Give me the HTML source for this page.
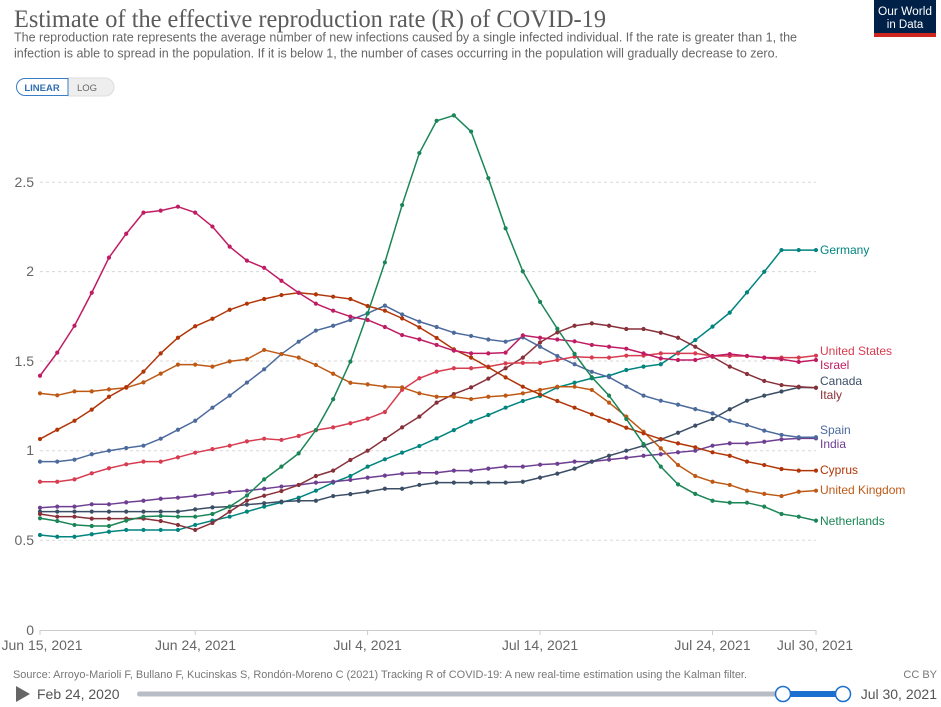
<!DOCTYPE html>
<html><head><meta charset="utf-8"><style>
html,body{margin:0;padding:0;background:#fff;width:941px;height:707px;overflow:hidden}
svg{display:block}
text{font-family:"Liberation Sans",sans-serif}
</style></head><body>
<svg width="941" height="707" viewBox="0 0 941 707" xmlns="http://www.w3.org/2000/svg">
<!-- header -->
<text x="14" y="27" font-family="Liberation Serif, serif" style="font-family:'Liberation Serif',serif" font-size="25" fill="#5b5b5b" textLength="592" lengthAdjust="spacingAndGlyphs">Estimate of the effective reproduction rate (R) of COVID-19</text>
<text x="14" y="41.5" font-size="12.5" fill="#666" textLength="783" lengthAdjust="spacingAndGlyphs">The reproduction rate represents the average number of new infections caused by a single infected individual. If the rate is greater than 1, the</text>
<text x="14" y="57.5" font-size="12.5" fill="#666" textLength="764" lengthAdjust="spacingAndGlyphs">infection is able to spread in the population. If it is below 1, the number of cases occurring in the population will gradually decrease to zero.</text>
<!-- logo -->
<rect x="874" y="0" width="62" height="37" fill="#002147"/>
<rect x="874" y="33" width="62" height="4" fill="#ce261e"/>
<text x="905" y="15" font-size="11.5" fill="#fff" text-anchor="middle" textLength="54" lengthAdjust="spacingAndGlyphs">Our World</text>
<text x="905" y="28" font-size="11.5" fill="#fff" text-anchor="middle">in Data</text>
<!-- buttons -->
<path d="M105 78 H68 V96 H105 A9 9 0 0 0 105 78 Z" fill="#eee" stroke="#ddd"/>
<path d="M68 78.5 H25 A8.5 8.5 0 0 0 25 95.5 H68 Z" fill="#fff" stroke="#3b7dc4"/>
<text x="42" y="91" font-size="9.5" font-weight="bold" fill="#2f6fb4" text-anchor="middle">LINEAR</text>
<text x="87" y="91" font-size="9.5" fill="#666" text-anchor="middle">LOG</text>
<!-- grid -->
<g stroke="#d8d8d8" stroke-dasharray="3,3" stroke-width="1">
<line x1="40" y1="182.3" x2="816" y2="182.3"/>
<line x1="40" y1="271.6" x2="816" y2="271.6"/>
<line x1="40" y1="361" x2="816" y2="361"/>
<line x1="40" y1="450.7" x2="816" y2="450.7"/>
<line x1="40" y1="540.3" x2="816" y2="540.3"/>
</g>
<line x1="40" y1="630.5" x2="816" y2="630.5" stroke="#ccc"/>
<g stroke="#ccc"><line x1="40" y1="630" x2="40" y2="635"/><line x1="195.2" y1="630" x2="195.2" y2="635"/><line x1="367.6" y1="630" x2="367.6" y2="635"/><line x1="540" y1="630" x2="540" y2="635"/><line x1="712.5" y1="630" x2="712.5" y2="635"/><line x1="816" y1="630" x2="816" y2="635"/></g>
<g font-size="14" fill="#666" text-anchor="end">
<text x="34" y="187">2.5</text><text x="34" y="276">2</text><text x="34" y="366">1.5</text><text x="34" y="455">1</text><text x="34" y="545">0.5</text><text x="34" y="635">0</text>
</g>
<g font-size="14" fill="#666" text-anchor="middle">
<text x="42" y="650">Jun 15, 2021</text><text x="195.5" y="650">Jun 24, 2021</text><text x="367.6" y="650">Jul 4, 2021</text><text x="540" y="650">Jul 14, 2021</text><text x="712.5" y="650">Jul 24, 2021</text><text x="815" y="650">Jul 30, 2021</text>
</g>
<!-- series -->
<g transform="matrix(17.244,0,0,-179.3,40,630)" fill="none" stroke-linejoin="round">
<g stroke-width="1.5">
<polyline vector-effect="non-scaling-stroke" stroke="#00847E" points="0,.53 1,.52 2,.52 3,.534 4,.548 5,.558 6,.558 7,.558 8,.558 9,.586 10,.61 11,.632 12,.66 13,.688 14,.712 15,.738 16,.777 17,.822 18,.859 19,.911 20,.952 21,.989 22,1.026 23,1.069 24,1.115 25,1.162 26,1.199 27,1.24 28,1.277 29,1.305 30,1.353 31,1.379 32,1.404 33,1.418 34,1.45 35,1.469 36,1.482 37,1.547 38,1.617 39,1.692 40,1.77 41,1.883 42,1.998 43,2.119 44,2.119 45,2.119"/>
<polyline vector-effect="non-scaling-stroke" stroke="#6D3E91" points="0,.682 1,.688 2,.688 3,.701 4,.701 5,.712 6,.721 7,.732 8,.738 9,.748 10,.76 11,.77 12,.777 13,.788 14,.8 15,.809 16,.822 17,.827 18,.837 19,.85 20,.861 21,.872 22,.877 23,.877 24,.889 25,.889 26,.9 27,.911 28,.911 29,.922 30,.927 31,.939 32,.939 33,.95 34,.961 35,.972 36,.98 37,.991 38,1 39,1.028 40,1.041 41,1.041 42,1.05 43,1.063 44,1.069 45,1.069"/>
<polyline vector-effect="non-scaling-stroke" stroke="#3C4E66" points="0,.66 1,.66 2,.66 3,.66 4,.66 5,.66 6,.66 7,.66 8,.66 9,.673 10,.684 11,.688 12,.699 13,.707 14,.716 15,.721 16,.721 17,.747 18,.758 19,.771 20,.788 21,.788 22,.809 23,.822 24,.822 25,.822 26,.822 27,.822 28,.827 29,.85 30,.872 31,.9 32,.939 33,.972 34,1 35,1.028 36,1.063 37,1.1 38,1.14 39,1.177 40,1.231 41,1.279 42,1.307 43,1.33 44,1.353 45,1.351"/>
<polyline vector-effect="non-scaling-stroke" stroke="#883039" points="0,.647 1,.632 2,.632 3,.621 4,.621 5,.621 6,.621 7,.608 8,.586 9,.558 10,.597 11,.66 12,.722 13,.749 14,.775 15,.809 16,.859 17,.889 18,.948 19,1 20,1.065 21,1.13 22,1.19 23,1.268 24,1.316 25,1.353 26,1.402 27,1.46 28,1.519 29,1.604 30,1.66 31,1.697 32,1.71 33,1.697 34,1.679 35,1.679 36,1.658 37,1.63 38,1.58 39,1.524 40,1.469 41,1.428 42,1.389 43,1.366 44,1.357 45,1.351"/>
<polyline vector-effect="non-scaling-stroke" stroke="#4C6A9C" points="0,.939 1,.939 2,.95 3,.98 4,1 5,1.015 6,1.028 7,1.067 8,1.117 9,1.167 10,1.24 11,1.307 12,1.38 13,1.454 14,1.539 15,1.608 16,1.67 17,1.697 18,1.729 19,1.766 20,1.809 21,1.76 22,1.72 23,1.69 24,1.658 25,1.64 26,1.62 27,1.608 28,1.632 29,1.58 30,1.528 31,1.482 32,1.44 33,1.41 34,1.357 35,1.307 36,1.279 37,1.257 38,1.232 39,1.208 40,1.167 41,1.143 42,1.112 43,1.088 44,1.075 45,1.075"/>
<polyline vector-effect="non-scaling-stroke" stroke="#D73C50" points="0,.827 1,.827 2,.84 3,.874 4,.902 5,.924 6,.939 7,.939 8,.963 9,.989 10,1.009 11,1.028 12,1.052 13,1.067 14,1.06 15,1.082 16,1.115 17,1.13 18,1.153 19,1.179 20,1.216 21,1.34 22,1.404 23,1.441 24,1.46 25,1.46 26,1.469 27,1.487 28,1.49 29,1.49 30,1.506 31,1.524 32,1.52 33,1.519 34,1.53 35,1.53 36,1.543 37,1.543 38,1.543 39,1.528 40,1.528 41,1.528 42,1.519 43,1.519 44,1.519 45,1.53"/>
<polyline vector-effect="non-scaling-stroke" stroke="#BE5915" points="0,1.32 1,1.309 2,1.331 3,1.331 4,1.342 5,1.351 6,1.381 7,1.43 8,1.48 9,1.48 10,1.469 11,1.498 12,1.51 13,1.562 14,1.539 15,1.519 16,1.478 17,1.429 18,1.379 19,1.37 20,1.357 21,1.353 22,1.32 23,1.301 24,1.301 25,1.288 26,1.301 27,1.307 28,1.32 29,1.339 30,1.357 31,1.357 32,1.339 33,1.268 34,1.19 35,1.106 36,1.013 37,.92 38,.859 39,.827 40,.809 41,.777 42,.759 43,.747 44,.771 45,.777"/>
<polyline vector-effect="non-scaling-stroke" stroke="#B13507" points="0,1.065 1,1.117 2,1.167 3,1.229 4,1.301 5,1.355 6,1.441 7,1.543 8,1.63 9,1.694 10,1.736 11,1.786 12,1.82 13,1.846 14,1.868 15,1.881 16,1.872 17,1.859 18,1.846 19,1.807 20,1.781 21,1.738 22,1.688 23,1.629 24,1.565 25,1.519 26,1.465 27,1.409 28,1.357 29,1.314 30,1.277 31,1.24 32,1.203 33,1.167 34,1.128 35,1.097 36,1.065 37,1.041 38,1.019 39,.991 40,.972 41,.939 42,.92 43,.898 44,.889 45,.889"/>
<polyline vector-effect="non-scaling-stroke" stroke="#C01C63" points="0,1.418 1,1.547 2,1.697 3,1.881 4,2.077 5,2.21 6,2.328 7,2.339 8,2.361 9,2.328 10,2.25 11,2.138 12,2.06 13,2.02 14,1.948 15,1.881 16,1.82 17,1.781 18,1.748 19,1.729 20,1.69 21,1.645 22,1.621 23,1.59 24,1.558 25,1.543 26,1.543 27,1.547 28,1.643 29,1.63 30,1.62 31,1.61 32,1.59 33,1.58 34,1.569 35,1.543 36,1.515 37,1.506 38,1.506 39,1.528 40,1.539 41,1.528 42,1.519 43,1.51 44,1.495 45,1.506"/>
<polyline vector-effect="non-scaling-stroke" stroke="#1A8556" points="0,.623 1,.608 2,.586 3,.58 4,.58 5,.61 6,.632 7,.636 8,.632 9,.632 10,.647 11,.688 12,.75 13,.84 14,.911 15,.985 16,1.115 17,1.287 18,1.497 19,1.766 20,2.05 21,2.37 22,2.66 23,2.84 24,2.87 25,2.78 26,2.52 27,2.24 28,2 29,1.83 30,1.68 31,1.54 32,1.41 33,1.307 34,1.177 35,1.037 36,.911 37,.812 38,.759 39,.721 40,.71 41,.71 42,.688 43,.647 44,.632 45,.61"/>
</g>
<g stroke-width="4.2" stroke-linecap="round">
<path vector-effect="non-scaling-stroke" stroke="#00847E" d="M0 .53h0M1 .52h0M2 .52h0M3 .534h0M4 .548h0M5 .558h0M6 .558h0M7 .558h0M8 .558h0M9 .586h0M10 .61h0M11 .632h0M12 .66h0M13 .688h0M14 .712h0M15 .738h0M16 .777h0M17 .822h0M18 .859h0M19 .911h0M20 .952h0M21 .989h0M22 1.026h0M23 1.069h0M24 1.115h0M25 1.162h0M26 1.199h0M27 1.24h0M28 1.277h0M29 1.305h0M30 1.353h0M31 1.379h0M32 1.404h0M33 1.418h0M34 1.45h0M35 1.469h0M36 1.482h0M37 1.547h0M38 1.617h0M39 1.692h0M40 1.77h0M41 1.883h0M42 1.998h0M43 2.119h0M44 2.119h0M45 2.119h0"/>
<path vector-effect="non-scaling-stroke" stroke="#6D3E91" d="M0 .682h0M1 .688h0M2 .688h0M3 .701h0M4 .701h0M5 .712h0M6 .721h0M7 .732h0M8 .738h0M9 .748h0M10 .76h0M11 .77h0M12 .777h0M13 .788h0M14 .8h0M15 .809h0M16 .822h0M17 .827h0M18 .837h0M19 .85h0M20 .861h0M21 .872h0M22 .877h0M23 .877h0M24 .889h0M25 .889h0M26 .9h0M27 .911h0M28 .911h0M29 .922h0M30 .927h0M31 .939h0M32 .939h0M33 .95h0M34 .961h0M35 .972h0M36 .98h0M37 .991h0M38 1h0M39 1.028h0M40 1.041h0M41 1.041h0M42 1.05h0M43 1.063h0M44 1.069h0M45 1.069h0"/>
<path vector-effect="non-scaling-stroke" stroke="#3C4E66" d="M0 .66h0M1 .66h0M2 .66h0M3 .66h0M4 .66h0M5 .66h0M6 .66h0M7 .66h0M8 .66h0M9 .673h0M10 .684h0M11 .688h0M12 .699h0M13 .707h0M14 .716h0M15 .721h0M16 .721h0M17 .747h0M18 .758h0M19 .771h0M20 .788h0M21 .788h0M22 .809h0M23 .822h0M24 .822h0M25 .822h0M26 .822h0M27 .822h0M28 .827h0M29 .85h0M30 .872h0M31 .9h0M32 .939h0M33 .972h0M34 1h0M35 1.028h0M36 1.063h0M37 1.1h0M38 1.14h0M39 1.177h0M40 1.231h0M41 1.279h0M42 1.307h0M43 1.33h0M44 1.353h0M45 1.351h0"/>
<path vector-effect="non-scaling-stroke" stroke="#883039" d="M0 .647h0M1 .632h0M2 .632h0M3 .621h0M4 .621h0M5 .621h0M6 .621h0M7 .608h0M8 .586h0M9 .558h0M10 .597h0M11 .66h0M12 .722h0M13 .749h0M14 .775h0M15 .809h0M16 .859h0M17 .889h0M18 .948h0M19 1h0M20 1.065h0M21 1.13h0M22 1.19h0M23 1.268h0M24 1.316h0M25 1.353h0M26 1.402h0M27 1.46h0M28 1.519h0M29 1.604h0M30 1.66h0M31 1.697h0M32 1.71h0M33 1.697h0M34 1.679h0M35 1.679h0M36 1.658h0M37 1.63h0M38 1.58h0M39 1.524h0M40 1.469h0M41 1.428h0M42 1.389h0M43 1.366h0M44 1.357h0M45 1.351h0"/>
<path vector-effect="non-scaling-stroke" stroke="#4C6A9C" d="M0 .939h0M1 .939h0M2 .95h0M3 .98h0M4 1h0M5 1.015h0M6 1.028h0M7 1.067h0M8 1.117h0M9 1.167h0M10 1.24h0M11 1.307h0M12 1.38h0M13 1.454h0M14 1.539h0M15 1.608h0M16 1.67h0M17 1.697h0M18 1.729h0M19 1.766h0M20 1.809h0M21 1.76h0M22 1.72h0M23 1.69h0M24 1.658h0M25 1.64h0M26 1.62h0M27 1.608h0M28 1.632h0M29 1.58h0M30 1.528h0M31 1.482h0M32 1.44h0M33 1.41h0M34 1.357h0M35 1.307h0M36 1.279h0M37 1.257h0M38 1.232h0M39 1.208h0M40 1.167h0M41 1.143h0M42 1.112h0M43 1.088h0M44 1.075h0M45 1.075h0"/>
<path vector-effect="non-scaling-stroke" stroke="#D73C50" d="M0 .827h0M1 .827h0M2 .84h0M3 .874h0M4 .902h0M5 .924h0M6 .939h0M7 .939h0M8 .963h0M9 .989h0M10 1.009h0M11 1.028h0M12 1.052h0M13 1.067h0M14 1.06h0M15 1.082h0M16 1.115h0M17 1.13h0M18 1.153h0M19 1.179h0M20 1.216h0M21 1.34h0M22 1.404h0M23 1.441h0M24 1.46h0M25 1.46h0M26 1.469h0M27 1.487h0M28 1.49h0M29 1.49h0M30 1.506h0M31 1.524h0M32 1.52h0M33 1.519h0M34 1.53h0M35 1.53h0M36 1.543h0M37 1.543h0M38 1.543h0M39 1.528h0M40 1.528h0M41 1.528h0M42 1.519h0M43 1.519h0M44 1.519h0M45 1.53h0"/>
<path vector-effect="non-scaling-stroke" stroke="#BE5915" d="M0 1.32h0M1 1.309h0M2 1.331h0M3 1.331h0M4 1.342h0M5 1.351h0M6 1.381h0M7 1.43h0M8 1.48h0M9 1.48h0M10 1.469h0M11 1.498h0M12 1.51h0M13 1.562h0M14 1.539h0M15 1.519h0M16 1.478h0M17 1.429h0M18 1.379h0M19 1.37h0M20 1.357h0M21 1.353h0M22 1.32h0M23 1.301h0M24 1.301h0M25 1.288h0M26 1.301h0M27 1.307h0M28 1.32h0M29 1.339h0M30 1.357h0M31 1.357h0M32 1.339h0M33 1.268h0M34 1.19h0M35 1.106h0M36 1.013h0M37 .92h0M38 .859h0M39 .827h0M40 .809h0M41 .777h0M42 .759h0M43 .747h0M44 .771h0M45 .777h0"/>
<path vector-effect="non-scaling-stroke" stroke="#B13507" d="M0 1.065h0M1 1.117h0M2 1.167h0M3 1.229h0M4 1.301h0M5 1.355h0M6 1.441h0M7 1.543h0M8 1.63h0M9 1.694h0M10 1.736h0M11 1.786h0M12 1.82h0M13 1.846h0M14 1.868h0M15 1.881h0M16 1.872h0M17 1.859h0M18 1.846h0M19 1.807h0M20 1.781h0M21 1.738h0M22 1.688h0M23 1.629h0M24 1.565h0M25 1.519h0M26 1.465h0M27 1.409h0M28 1.357h0M29 1.314h0M30 1.277h0M31 1.24h0M32 1.203h0M33 1.167h0M34 1.128h0M35 1.097h0M36 1.065h0M37 1.041h0M38 1.019h0M39 .991h0M40 .972h0M41 .939h0M42 .92h0M43 .898h0M44 .889h0M45 .889h0"/>
<path vector-effect="non-scaling-stroke" stroke="#C01C63" d="M0 1.418h0M1 1.547h0M2 1.697h0M3 1.881h0M4 2.077h0M5 2.21h0M6 2.328h0M7 2.339h0M8 2.361h0M9 2.328h0M10 2.25h0M11 2.138h0M12 2.06h0M13 2.02h0M14 1.948h0M15 1.881h0M16 1.82h0M17 1.781h0M18 1.748h0M19 1.729h0M20 1.69h0M21 1.645h0M22 1.621h0M23 1.59h0M24 1.558h0M25 1.543h0M26 1.543h0M27 1.547h0M28 1.643h0M29 1.63h0M30 1.62h0M31 1.61h0M32 1.59h0M33 1.58h0M34 1.569h0M35 1.543h0M36 1.515h0M37 1.506h0M38 1.506h0M39 1.528h0M40 1.539h0M41 1.528h0M42 1.519h0M43 1.51h0M44 1.495h0M45 1.506h0"/>
<path vector-effect="non-scaling-stroke" stroke="#1A8556" d="M0 .623h0M1 .608h0M2 .586h0M3 .58h0M4 .58h0M5 .61h0M6 .632h0M7 .636h0M8 .632h0M9 .632h0M10 .647h0M11 .688h0M12 .75h0M13 .84h0M14 .911h0M15 .985h0M16 1.115h0M17 1.287h0M18 1.497h0M19 1.766h0M20 2.05h0M21 2.37h0M22 2.66h0M23 2.84h0M24 2.87h0M25 2.78h0M26 2.52h0M27 2.24h0M28 2h0M29 1.83h0M30 1.68h0M31 1.54h0M32 1.41h0M33 1.307h0M34 1.177h0M35 1.037h0M36 .911h0M37 .812h0M38 .759h0M39 .721h0M40 .71h0M41 .71h0M42 .688h0M43 .647h0M44 .632h0M45 .61h0"/>
</g>
</g>
<!-- labels -->
<g font-size="12" dominant-baseline="central">
<text x="820" y="250" fill="#00847E">Germany</text>
<text x="820" y="351" fill="#D73C50">United States</text>
<text x="820" y="365" fill="#C01C63">Israel</text>
<text x="820" y="381" fill="#3C4E66">Canada</text>
<text x="820" y="395" fill="#883039">Italy</text>
<text x="820" y="430" fill="#4C6A9C">Spain</text>
<text x="820" y="444" fill="#6D3E91">India</text>
<text x="820" y="470" fill="#B13507">Cyprus</text>
<text x="820" y="490" fill="#BE5915">United Kingdom</text>
<text x="820" y="521" fill="#1A8556">Netherlands</text>
</g>
<!-- footer -->
<text x="13" y="678" font-size="11" fill="#777" textLength="734" lengthAdjust="spacingAndGlyphs">Source: Arroyo-Marioli F, Bullano F, Kucinskas S, Rondón-Moreno C (2021) Tracking R of COVID-19: A new real-time estimation using the Kalman filter.</text>
<text x="937" y="678" font-size="11" fill="#777" text-anchor="end">CC BY</text>
<path d="M16 686 L30 694 L16 702 Z" fill="#666"/>
<text x="37" y="699" font-size="14" fill="#555">Feb 24, 2020</text>
<rect x="137" y="691.5" width="706" height="5" rx="2.5" fill="#b8bcc4"/>
<rect x="783" y="691" width="60" height="6" fill="#1a6fcf"/>
<circle cx="783" cy="694" r="7.5" fill="#fff" stroke="#1a6fcf" stroke-width="1.5"/>
<circle cx="843" cy="694" r="7.5" fill="#fff" stroke="#1a6fcf" stroke-width="1.5"/>
<text x="937" y="699" font-size="14" fill="#555" text-anchor="end">Jul 30, 2021</text>
</svg>
</body></html>
